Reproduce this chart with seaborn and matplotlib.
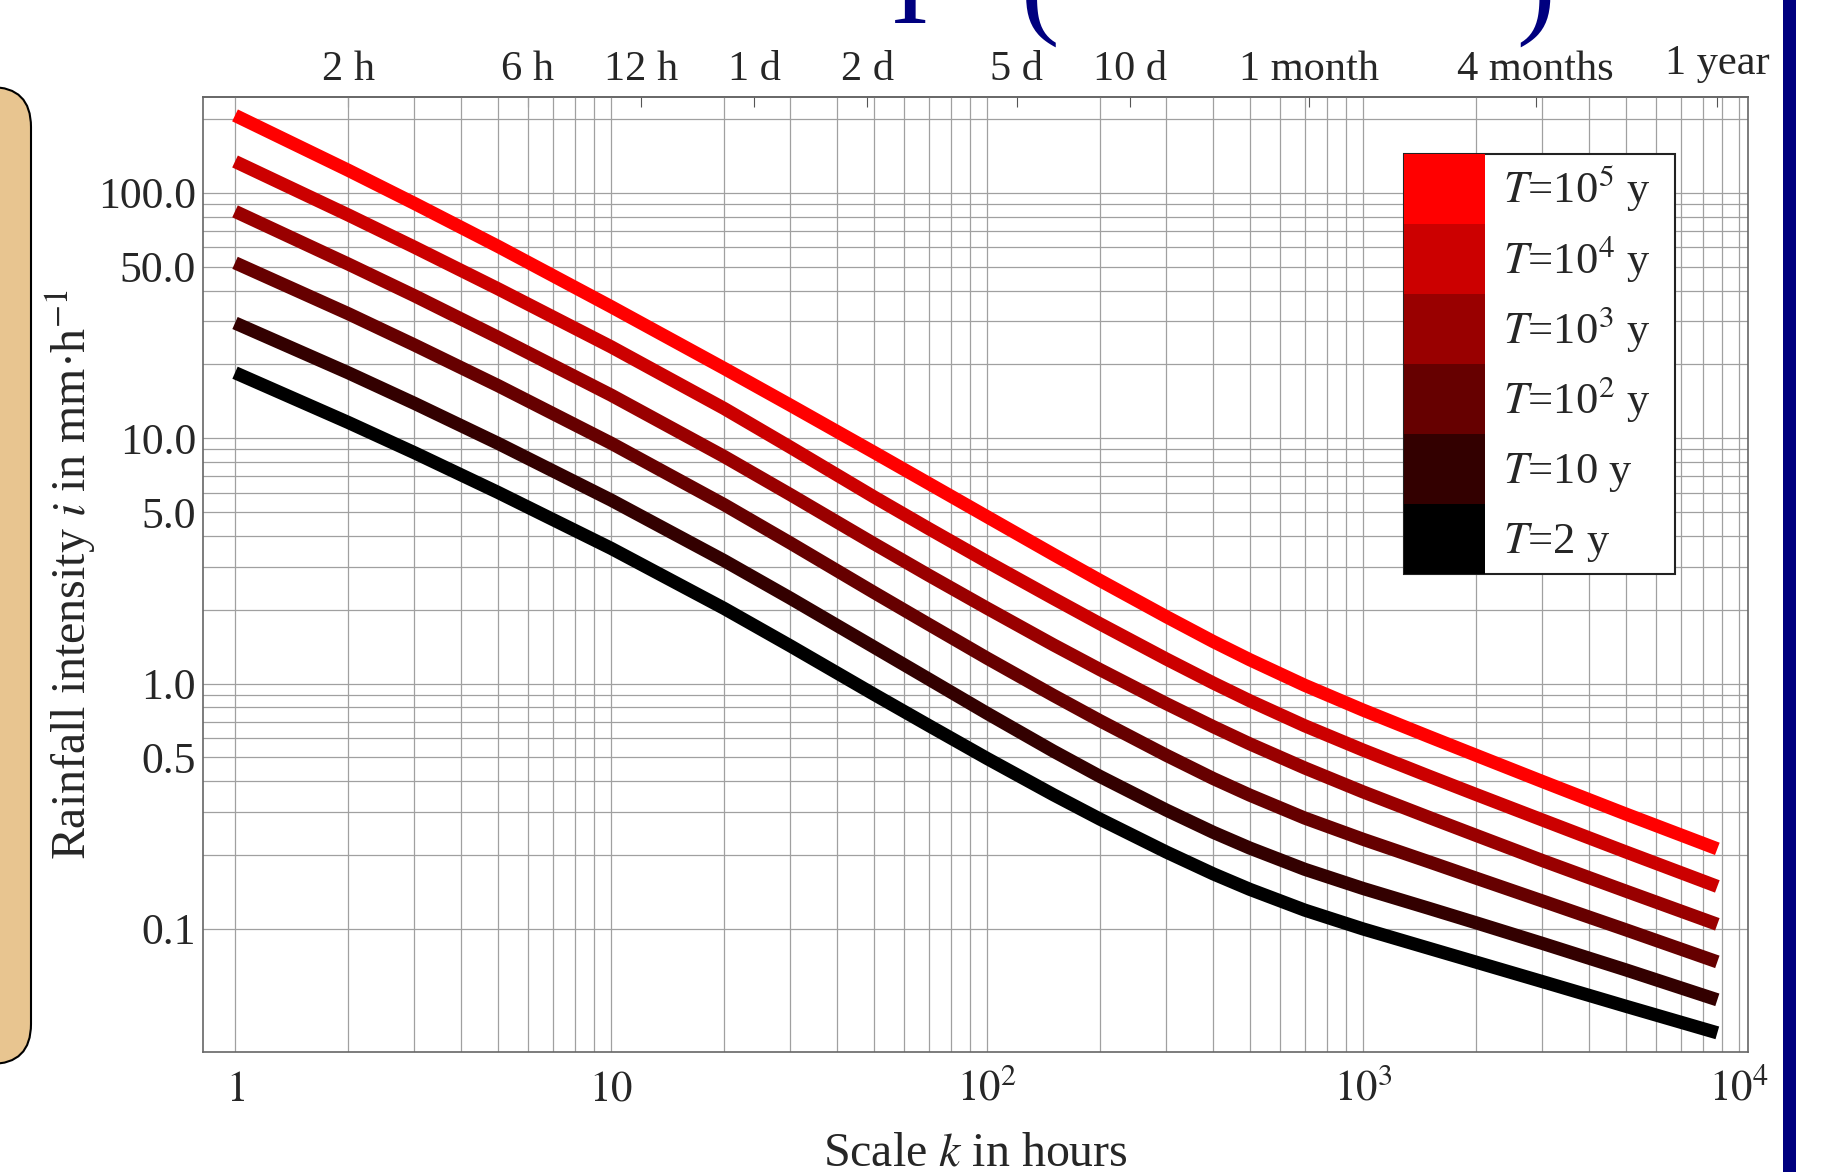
import matplotlib
matplotlib.use("Agg")
import matplotlib.pyplot as plt
from matplotlib.patches import Patch, FancyBboxPatch, Rectangle
from matplotlib.ticker import NullLocator
from matplotlib.transforms import ScaledTranslation
import seaborn as sns
import pandas as pd

# scale k in hours
scale_k = [1, 2, 3, 5, 10, 20, 30, 50, 70, 100, 150, 200, 300, 400, 500, 700,
           1000, 1500, 2000, 3000, 5000, 8760]

# rainfall intensity in mm/h, one list per return period T
i_T1e5 = [207, 123.7, 90.6, 60.6, 34.4, 19.26, 13.63, 8.77, 6.54, 4.79, 3.364,
          2.63, 1.873, 1.483, 1.251, 0.984, 0.78, 0.6075, 0.51, 0.399, 0.294, 0.212]
i_T1e4 = [134.3, 81.3, 60.1, 40.7, 23.6, 13.22, 9.19, 5.77, 4.283, 3.14, 2.226,
          1.751, 1.259, 1.005, 0.851, 0.673, 0.536, 0.419, 0.353, 0.278, 0.206, 0.149]
i_T1e3 = [84.1, 51.3, 38.1, 25.8, 15.0, 8.42, 5.89, 3.72, 2.763, 2.03, 1.44,
          1.139, 0.828, 0.667, 0.568, 0.453, 0.362, 0.2846, 0.2405, 0.190, 0.1426, 0.1044]
i_T1e2 = [51.9, 32.2, 24.0, 16.4, 9.55, 5.36, 3.74, 2.354, 1.743, 1.27, 0.896,
          0.705, 0.51, 0.41, 0.351, 0.283, 0.232, 0.1876, 0.161, 0.130, 0.0992, 0.0734]
i_T10 = [29.5, 18.49, 13.88, 9.54, 5.6, 3.17, 2.228, 1.41, 1.043, 0.757, 0.531,
         0.418, 0.305, 0.2475, 0.2136, 0.175, 0.1462, 0.1212, 0.1059, 0.0873, 0.0681, 0.0514]
i_T2 = [18.5, 11.6, 8.73, 6.02, 3.56, 2.024, 1.424, 0.905, 0.6747, 0.4955, 0.3527,
        0.280, 0.2057, 0.1676, 0.145, 0.1193, 0.1, 0.0833, 0.0732, 0.061, 0.0484, 0.0377]

periods = ["1e5", "1e4", "1e3", "1e2", "10", "2"]
legend_labels = [r"$T$=10$^{5}$ y", r"$T$=10$^{4}$ y", r"$T$=10$^{3}$ y",
                 r"$T$=10$^{2}$ y", r"$T$=10 y", r"$T$=2 y"]
colors = ["#ff0000", "#cc0000", "#990000", "#660000", "#330000", "#000000"]

# bottom axis
x_major = [1, 10, 100, 1000, 10000]
x_major_labels = ["$1$", "$10$", "$10^{2}$", "$10^{3}$", "$10^{4}$"]
x_minor = [m * d for d in (1, 10, 100, 1000) for m in range(2, 10)]

# left axis
y_major = [0.1, 0.5, 1, 5, 10, 50, 100]
y_major_labels = ["0.1", "0.5", "1.0", "5.0", "10.0", "50.0", "100.0"]
y_minor = [0.2, 0.3, 0.4, 0.6, 0.7, 0.8, 0.9, 2, 3, 4, 6, 7, 8, 9,
           20, 30, 40, 60, 70, 80, 90, 200]

# top axis: durations
top_k = [2, 6, 12, 24, 48, 120, 240, 720, 2880, 8760]
top_labels = ["2 h", "6 h", "12 h", "1 d", "2 d", "5 d", "10 d",
              "1 month", "4 months", "1 year"]

series = [i_T1e5, i_T1e4, i_T1e3, i_T1e2, i_T10, i_T2]
rows = []
for p, vals in zip(periods, series):
    for k, v in zip(scale_k, vals):
        rows.append({"k": k, "i": v, "T": p})
df = pd.DataFrame(rows)

sns.set_style("white")
plt.rcParams["font.family"] = ["Liberation Serif", "DejaVu Serif"]
plt.rcParams["mathtext.fontset"] = "stix"

fig = plt.figure(figsize=(18.23, 11.72), dpi=100)

# slide decorations in pixel coordinates
bg = fig.add_axes([0, 0, 1, 1], zorder=0)
bg.set_xlim(0, 1823)
bg.set_ylim(1172, 0)
bg.axis("off")
bg.add_patch(FancyBboxPatch((-80, 87), 111, 977,
                            boxstyle="round,pad=0,rounding_size=40",
                            fc="#e8c590", ec="black", lw=1.5))
bg.add_patch(Rectangle((1783, -5), 13, 1182, fc="#00007f", ec="none"))
title_kw = dict(fontsize=83, color="#00007f", ha="center", va="baseline")
bg.text(910, 23, "I", **title_kw)
bg.text(1040, 23, "(", **title_kw)
bg.text(1535, 23, ")", **title_kw)

ax = fig.add_axes([0.11136, 0.10239, 0.84750, 0.81485], zorder=2)
ax.set_xscale("log")
ax.set_yscale("log")

sns.lineplot(data=df, x="k", y="i", hue="T", hue_order=periods,
             palette=dict(zip(periods, colors)), linewidth=9.5,
             solid_capstyle="butt", solid_joinstyle="round", legend=False,
             errorbar=None, sort=False, ax=ax)

ax.set_xlim(0.822, 10570)
ax.set_ylim(0.0315, 246)

ax.set_xticks(x_major, labels=x_major_labels)
ax.set_xticks(x_minor, minor=True)
ax.set_yticks(y_major, labels=y_major_labels)
ax.set_yticks(y_minor, minor=True)
ax.xaxis.set_minor_formatter(plt.NullFormatter())
ax.yaxis.set_minor_formatter(plt.NullFormatter())

ax.set_axisbelow(True)
ax.grid(True, which="both", color="#a0a0a0", lw=0.9)

ax.tick_params(axis="both", which="both", direction="in", color="#555555")
ax.tick_params(axis="x", which="major", length=6, pad=35, labelsize=31)
ax.tick_params(axis="y", which="major", length=6, pad=5, labelsize=31.5)
ax.tick_params(axis="both", which="minor", length=3.5)
for t in ax.get_xticklabels():
    t.set_verticalalignment("baseline")

for s in ax.spines.values():
    s.set_color("#666666")
    s.set_linewidth(1.2)

secax = ax.secondary_xaxis("top")
secax.set_xticks(top_k, labels=top_labels)
secax.xaxis.set_minor_locator(NullLocator())
secax.tick_params(axis="x", which="major", direction="in", length=7, pad=6,
                  labelsize=30.5, color="#555555")
secax.spines["top"].set_color("#666666")
secax.spines["top"].set_linewidth(1.2)
# the "1 year" label sits a little higher in the original
last = secax.get_xticklabels()[-1]
last.set_transform(last.get_transform() + ScaledTranslation(0, 0.06, fig.dpi_scale_trans))

ax.set_xlabel(r"Scale $k$ in hours", fontsize=34.5)
ax.xaxis.set_label_coords(0.5, -0.083)
ax.set_ylabel(r"Rainfall intensity $i$ in mm·h$^{-1}$", fontsize=34.5)
ax.yaxis.set_label_coords(-0.068, 0.5)

handles = [Patch(facecolor=c, edgecolor="none", lw=0) for c in colors]
leg = ax.legend(handles, legend_labels, loc="upper left", mode="expand",
                bbox_to_anchor=(0.7773, 0.5, 0.1754, 0.4403), frameon=True,
                fancybox=False, framealpha=1, edgecolor="#222222", fontsize=32,
                handlelength=1.82, handleheight=2.046, handletextpad=0.4,
                labelspacing=0, borderpad=0, borderaxespad=0)
leg.get_frame().set_linewidth(1.5)

fig.savefig("out.png", dpi=100)
